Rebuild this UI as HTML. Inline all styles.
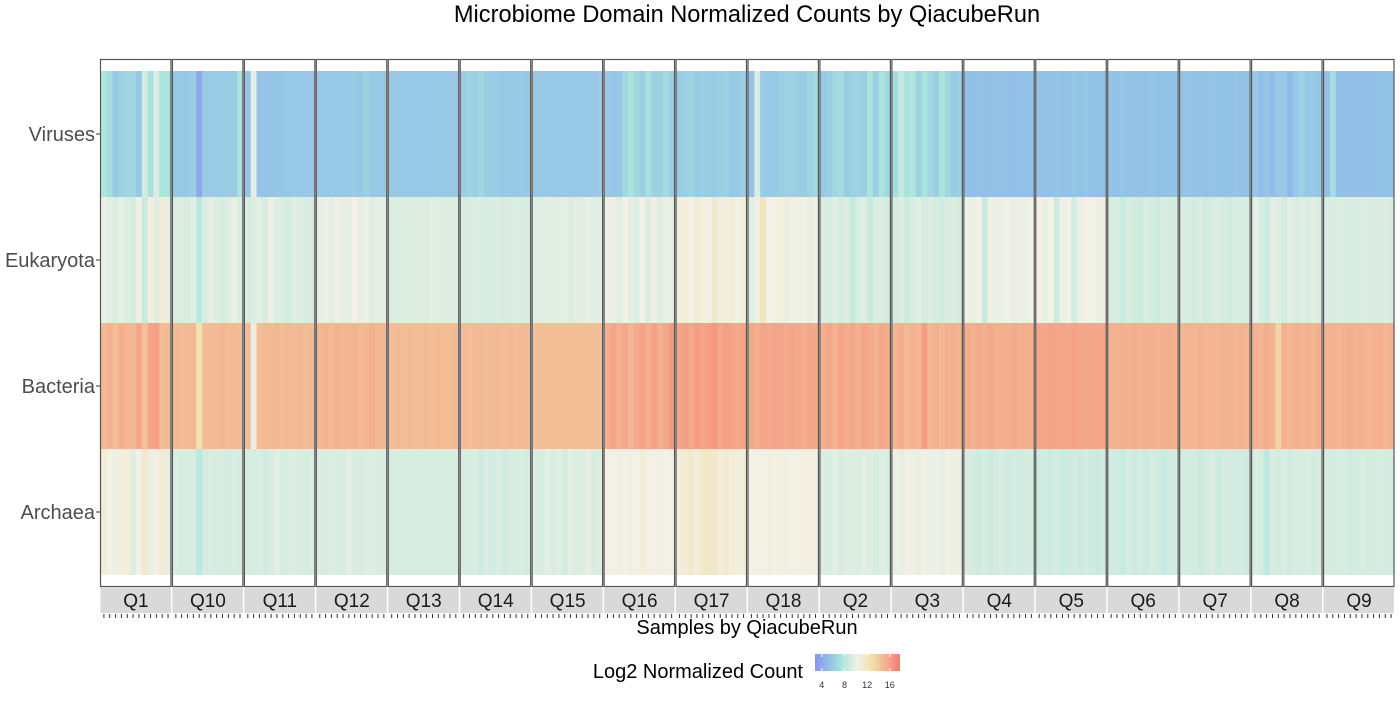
<!DOCTYPE html>
<html><head><meta charset="utf-8"><style>
body{margin:0;background:#fff;font-family:"Liberation Sans",sans-serif}
svg text{font-family:"Liberation Sans",sans-serif}
</style></head><body>
<svg id="c" width="1400" height="700" xmlns="http://www.w3.org/2000/svg">
<defs><linearGradient id="lg" x1="0" x2="1" y1="0" y2="0">
<stop offset="0" stop-color="#8896ee"/><stop offset="0.18" stop-color="#93c2e6"/><stop offset="0.31" stop-color="#a9e4dc"/><stop offset="0.5" stop-color="#f3f1e5"/><stop offset="0.68" stop-color="#f1dea8"/><stop offset="1" stop-color="#f77b72"/></linearGradient></defs>
<text x="747" y="22" text-anchor="middle" font-size="23.6" fill="#000">Microbiome Domain Normalized Counts by QiacubeRun</text>
<g id="plot"></g>
<text x="747" y="634" text-anchor="middle" font-size="20" fill="#000">Samples by QiacubeRun</text>
<text x="803" y="678" text-anchor="end" font-size="20" fill="#000">Log2 Normalized Count</text>
<rect x="815" y="654" width="85" height="17" fill="url(#lg)"/>
<g id="leg"></g>
</svg>
<script>
const panels=["Q1","Q10","Q11","Q12","Q13","Q14","Q15","Q16","Q17","Q18","Q2","Q3","Q4","Q5","Q6","Q7","Q8","Q9"];
const domains=["Viruses","Eukaryota","Bacteria","Archaea"];
const legendTicks=[4,8,12,16];
const viruses=[
7.8,7.2,6,6.5,6.8,6.8,6,9.2,7.3,9.5,7.6,7.6,
6,6,6,6.3,4,6.2,6.2,6.2,6.2,6.2,6.2,7.4,
5.8,10,5.8,5.8,5.8,5.9,5.9,6,6,6,6,6,
6,6,6,6,6,6,6.2,6,6.5,6,6,6,
6.1,6,6,6.1,6,6,6,6.1,6,6,6,6.1,
6.3,6.6,6.3,6.8,6.3,6.2,6.2,6,6,6,6.2,6,
6,6.1,6,6,6.1,6,6,6,6.1,6,6,6.2,
6,5.8,6,6.8,7.5,6.8,6.3,7.3,6.5,6.5,7,6.3,
6.2,6.4,6.6,6.2,6.3,6.2,6.2,6.3,6.5,6.1,6.1,6.3,
5.7,9.5,6.2,6,6.1,6.3,6.4,6.5,6.3,6.2,6.6,6.8,
6,6.3,6.8,7,6.2,6.5,6.6,6.4,7.5,6.3,7.6,6.8,
7.2,8.5,7.5,7.8,6.5,7.5,6.8,6.3,7.5,6.8,6.2,6.4,
5.6,5.6,5.7,5.6,5.6,5.6,5.7,5.6,5.6,5.6,5.7,5.6,
5.7,5.7,5.7,5.8,5.7,5.7,5.9,5.7,5.9,5.7,5.7,5.7,
5.7,5.7,5.8,5.7,5.7,5.7,5.7,5.8,5.7,5.7,5.7,5.7,
5.7,5.8,5.7,5.7,5.7,5.8,5.7,5.7,5.7,5.8,5.7,5.7,
6,5.5,5.8,5.5,6,6,5.2,6,6.5,6,6,5.9,
5.6,7.2,5.6,5.6,5.6,5.6,5.6,5.6,5.6,5.7,5.7,5.7];
const eukaryota=[
10.2,9.8,9.5,10,9.6,9.3,10.3,8.8,11,9.8,11.2,10,
9.6,9.5,9.4,9.8,8.2,9.5,10,9.6,9.3,9.6,10.2,9.5,
9.4,9.6,9.8,9.4,10.3,9.7,9.5,9.3,9.8,9.6,9.5,9.4,
10,10.2,9.8,10.3,10,9.9,10.5,10,10.2,9.8,10,9.9,
9.6,9.7,9.6,9.7,9.6,9.7,9.6,9.8,9.7,9.6,9.7,9.6,
9.5,9.4,9.6,9.5,9.4,9.5,9.6,9.4,9.5,9.6,9.5,9.4,
9.8,9.7,9.9,9.7,9.8,10,9.6,9.8,9.7,10.1,9.7,9.8,
10.2,10.3,9.8,10.5,10,9.7,10.4,9.6,10.3,9.8,10.1,10,
10.8,11,10.5,11.2,10.8,10.6,11.5,10.7,10.9,11,10.5,10.8,
9.8,10.2,12.2,10.4,10.5,10.8,10.2,10.6,10.3,10.5,10.1,10.4,
9.6,9.4,9.8,9.3,9.6,8.6,9.4,9.7,8.8,9.5,9.6,9.3,
9.3,9.6,9,9.4,9.7,9.2,9.6,9.4,9.1,9.5,9.6,9.3,
10.3,10.2,10.4,8.8,10.3,10.1,10.2,10.4,10.1,10.3,10.2,10.4,
10.6,10.2,10.4,9,10.3,10.5,9.2,10.2,10.6,10.4,10.2,10.7,
9.4,9.3,8.8,9.4,9.2,9,9.5,9.3,9,9.4,9.3,9.2,
9.5,9.4,9.2,9.5,9,9.4,9.5,9.3,9.1,9.5,9.4,9.3,
10,9.5,8.9,9.8,9.6,9.2,9.9,9.4,9.7,9.5,9.9,9.6,
9.4,9.5,9.6,9.5,9.4,9.5,9.6,9.5,9.4,9.5,9.6,9.4];
const bacteria=[
14.8,15.2,14.6,15.4,15,14.8,15.6,14.4,15.8,16,14.6,14.8,
14.8,14.6,14.7,14.9,12.5,14.6,14.8,14.7,14.9,14.6,14.8,14.7,
14.7,10,14.6,14.8,14.7,14.9,14.6,14.8,14.7,14.9,14.6,14.7,
14.9,15.1,14.8,15.2,14.9,15,15.1,14.8,15,15.2,14.9,15,
14.6,14.7,14.6,14.7,14.6,14.6,14.7,14.6,14.7,14.6,14.6,14.7,
14.7,14.6,14.8,14.7,14.6,14.7,14.8,14.6,14.7,14.6,14.8,14.7,
14.5,14.6,14.5,14.6,14.5,14.6,14.5,14.6,14.5,14.6,14.5,14.6,
15.4,15.8,15.2,15.6,15,15.5,15.9,15.3,16,15.4,15.6,16.4,
15.8,16,15.6,16.2,15.8,16,16.4,15.7,16,15.8,15.6,15.9,
15.6,15.4,15.8,15.6,15.9,15.7,15.5,15.8,15.6,15.4,15.7,15.6,
15.4,15.6,15.2,15.8,15.4,15.6,15.3,15.8,15.5,15.2,15.6,15.4,
15,15.4,14.8,15.2,15,16.2,15,15.3,14.9,15.1,15.2,15,
15.4,15.2,15.5,15.3,15.6,15.2,15.4,15.3,15.5,15.2,15.4,15.3,
15.8,15.6,15.9,15.7,15.8,15.6,15.9,15.7,15.6,15.8,15.7,15.6,
15.2,15.1,15.3,15.2,15.4,15.1,15.2,15.3,15.1,15.2,15.4,15.2,
15,15.1,15,15.2,15,15.1,15,15.2,15.1,15,15.2,15,
15.2,15,15.4,15.1,13.5,15.2,15,15.3,15.1,15.2,15,15.3,
15.1,15.2,15,15.1,15.3,15.1,15.2,15,15.1,15.2,15,15.1];
const archaea=[
11.2,10.5,10.2,10.8,11,9.6,10.5,11.5,10.2,10.6,11.3,10,
9.5,9.3,9.4,9.3,8.2,9.2,9.5,9.3,9.4,9.2,9.5,9.3,
9.3,9.4,9.5,9.2,9.4,9.8,9.3,9.5,9.6,9.4,9.3,9.5,
9.5,9.4,9.6,9.5,9.4,9.8,9.5,9.4,9.6,9.7,9.5,9.4,
9.3,9.4,9.3,9.4,9.3,9.4,9.3,9.4,9.3,9.4,9.3,9.4,
9.4,9.3,9.5,9,9.4,9.2,9.5,9.1,9.4,9.3,9.5,9.2,
9.6,9.4,9.8,9.5,9.7,9.3,9.8,9.5,9.6,9.9,9.4,9.6,
10.6,10.4,10.8,10.5,10.7,10.4,10.9,10.6,10.5,10.8,10.4,10.6,
11,11.2,11.4,11,11.6,11.8,11.5,11,11.3,11.1,10.8,11,
10.5,10.6,10.4,10.8,10.5,10.6,10.7,10.4,10.6,10.5,10.8,10.6,
9.6,9.5,9.8,9.4,9.6,9.7,9.5,9.8,9.6,9.4,9.7,9.5,
10.2,10,10.4,10.3,10.1,10.5,10.2,10.3,10,10.4,10.2,10.3,
9.4,9.2,9,9.3,9,9.2,9.4,9.1,9.3,9,9.2,9.3,
9,9.1,8.9,9.2,8.8,9,9.1,8.9,9.2,9,8.8,9.1,
9.2,9.1,8.8,9.3,9,9.2,8.9,9.3,9.1,8.8,9.2,9.1,
9.2,9.3,9.1,8.9,9.2,9.4,9,9.2,9.3,9.1,9.2,9,
9.5,9.3,8.4,9.4,9.2,9.5,9.1,9.4,9.3,9.5,9.2,9.4,
9.3,9.2,9.4,9.3,9.1,9.3,9.4,9.2,9.3,9.4,9.2,9.3];
const series=[viruses,eukaryota,bacteria,archaea];
const NS=12;
const stops=[[2.8,[136,150,238]],[5.5,[145,190,232]],[7.5,[169,228,220]],[10.5,[243,241,229]],[13,[241,222,168]],[17.8,[247,123,114]]];
function color(v){if(v<=stops[0][0])return"rgb("+stops[0][1]+")";
for(let i=1;i<stops.length;i++){if(v<=stops[i][0]){const a=stops[i-1],b=stops[i],t=(v-a[0])/(b[0]-a[0]);
return"rgb("+a[1].map((c,k)=>Math.round(c+(b[1][k]-c)*t)).join(",")+")";}}return"rgb("+stops[stops.length-1][1]+")";}
const NS_="http://www.w3.org/2000/svg";
const g=document.getElementById('plot');
const X0=100,PW=(1395-100)/panels.length,Y0=71,RH=126;
function mk(t,a,p){const e=document.createElementNS(NS_,t);for(const k in a)e.setAttribute(k,a[k]);(p||g).appendChild(e);return e;}
function xScale(p,s){return X0+p*PW+1+s*(PW-2)/NS;}
function yScale(r){return Y0+r*RH;}
panels.forEach((name,p)=>{
 const px=X0+p*PW;
 const pg=mk('g',{});
 
 
 domains.forEach((d,r)=>{for(let s=0;s<NS;s++){const v=series[r][p*NS+s];
  const c=mk('rect',{x:xScale(p,s),y:yScale(r),width:(PW-2)/NS+0.4,height:RH,fill:color(v)},pg);
  
  }});
 const b=mk('rect',{x:px+0.5,y:59.5,width:PW-1.5,height:527,fill:'none',stroke:'#555','stroke-width':1.2},pg);
 
 
 const st=mk('rect',{x:px+0.5,y:587,width:PW-1.5,height:26,fill:'#d9d9d9'},pg);
 
 
 const tx=mk('text',{x:px+PW/2,y:607,'text-anchor':'middle','font-size':19,fill:'#1a1a1a'},pg);tx.textContent=name;
 
 
 for(let s=0;s<NS;s++){const xx=xScale(p,s)+(PW-2)/NS/2;mk('line',{x1:xx,x2:xx,y1:614,y2:618,stroke:'#333','stroke-width':1},pg);}
});
domains.forEach((d,r)=>{const y=yScale(r)+RH/2;
 const t=mk('text',{x:95,y:y+7,'text-anchor':'end','font-size':20,fill:'#4d4d4d'});t.textContent=d;
 
 
 mk('line',{x1:96,x2:100,y1:y,y2:y,stroke:'#333'});});
const lg=document.getElementById('leg');
legendTicks.forEach(v=>{const x=815+(v-2.8)/(17.8-2.8)*85;
 mk('line',{x1:x,x2:x,y1:654,y2:657,stroke:'#fff'},lg);mk('line',{x1:x,x2:x,y1:668,y2:671,stroke:'#fff'},lg);
 const t=mk('text',{x:x,y:688,'text-anchor':'middle','font-size':9,fill:'#333'},lg);t.textContent=v;
 
 });
</script>
</body></html>
